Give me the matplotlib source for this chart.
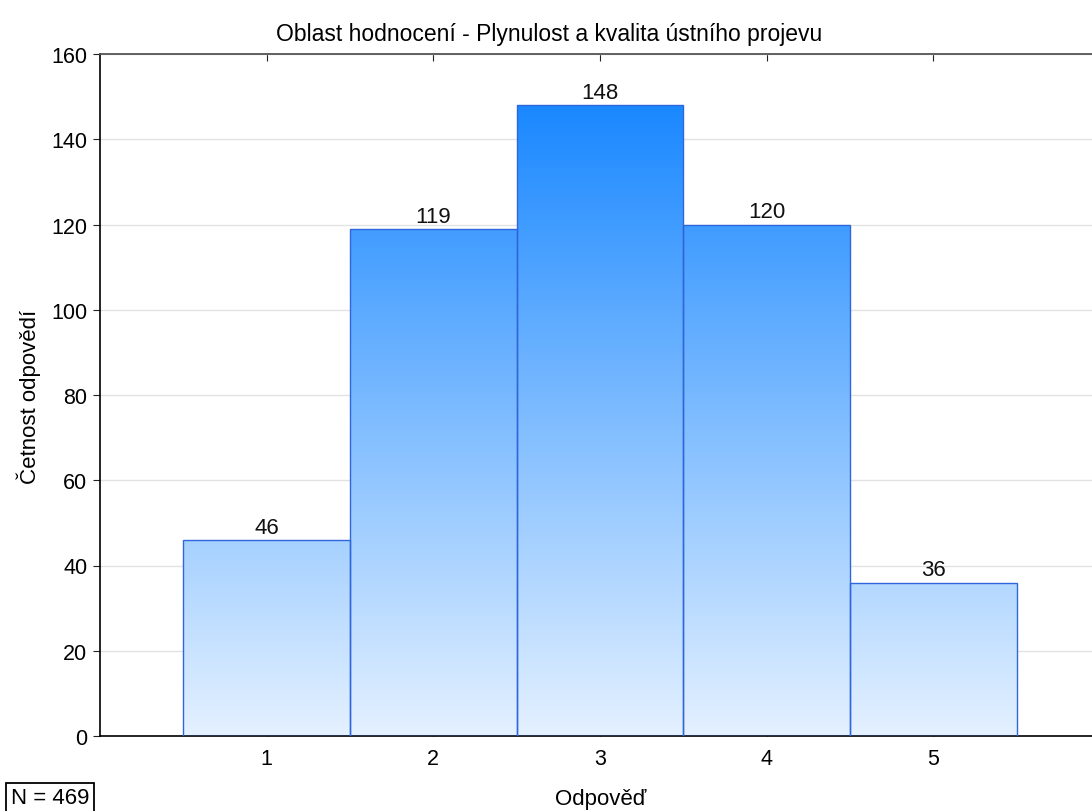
import matplotlib
matplotlib.use("Agg")
import matplotlib.pyplot as plt
import numpy as np
from matplotlib.colors import LinearSegmentedColormap

plt.rcParams['font.family'] = ['Liberation Sans', 'DejaVu Sans']

categories = [1, 2, 3, 4, 5]
counts = [46, 119, 148, 120, 36]
yticks = [0, 20, 40, 60, 80, 100, 120, 140, 160]
title = "Oblast hodnocení - Plynulost a kvalita ústního projevu"
xlabel = "Odpověď"
ylabel = "Četnost odpovědí"
n_text = "N = 469"

W, H = 1092, 812
fig = plt.figure(figsize=(W / 100, H / 100), dpi=100)
ax = fig.add_axes([100 / W, 1 - 737 / H, 1000 / W, (737 - 55) / H])

ax.set_xlim(0, 6)
ax.set_ylim(0, 160)

# vertical gradient shared by all bars: light at 0, saturated blue at the maximum
cmap = LinearSegmentedColormap.from_list("bluegrad", ["#e4f1ff", "#1a88ff"])
ymax = max(counts)
grad = np.linspace(0, 1, 256).reshape(-1, 1)

ax.yaxis.grid(True, color="#e2e2e2", linewidth=1)
ax.set_axisbelow(True)

bars = ax.bar(categories, counts, width=1.0, color="none",
              edgecolor="#2f66dc", linewidth=1.0, zorder=3)
for bar, v in zip(bars, counts):
    x0 = bar.get_x()
    img = ax.imshow(grad, extent=[x0, x0 + bar.get_width(), 0, ymax],
                    origin="lower", cmap=cmap, aspect="auto",
                    vmin=0, vmax=1, zorder=2, interpolation="bilinear")
    img.set_clip_path(bar)
    ax.text(x0 + bar.get_width() / 2, v + 0.5, str(v), ha="center",
            va="bottom", fontsize=16, color="#111111", zorder=4)

ax.set_xticks(categories)
ax.set_yticks(yticks)
ax.tick_params(axis="x", direction="in", top=True, length=5, labelsize=15.5,
               pad=9, color="#222222")
ax.tick_params(axis="y", direction="out", length=5, labelsize=15.5,
               pad=4, color="#222222")

ax.spines["right"].set_visible(False)
ax.spines["top"].set_color("#555555")
ax.spines["top"].set_linewidth(1.3)
ax.spines["left"].set_linewidth(1.2)
ax.spines["bottom"].set_linewidth(1.2)

fig.text(549 / W, 1 - 35 / H, title, ha="center", va="center", fontsize=16.5)
fig.text(601 / W, 1 - 800 / H, xlabel, ha="center", va="center", fontsize=16)
fig.text(29 / W, 1 - 397 / H, ylabel, ha="center", va="center",
         rotation=90, fontsize=16)
fig.text(11 / W, 1 - 799 / H, n_text, ha="left", va="center", fontsize=16,
         bbox=dict(boxstyle="square,pad=0.22", facecolor="white",
                   edgecolor="black", linewidth=1.3))

fig.savefig("out.png", dpi=100)
